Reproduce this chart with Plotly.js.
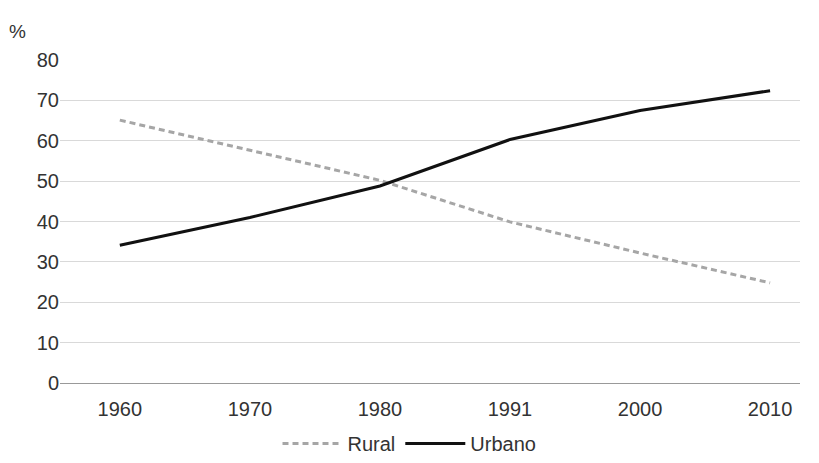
<!DOCTYPE html>
<html><head><script src="https://cdn.plot.ly/plotly-3.0.1.min.js"></script></head>
<body style="margin:0">
<div id="c" style="width:819px;height:463px"></div>
<script>
const years = ['1960','1970','1980','1991','2000','2010'];
const rural = [65.1, 57.7, 50.2, 39.9, 32.2, 24.8];
const urbano = [34.1, 41.0, 48.8, 60.3, 67.5, 72.4];
const tickVals = [0,10,20,30,40,50,60,70,80];
Plotly.newPlot('c', [
  {x: years, y: rural, name: 'Rural', mode: 'lines', line: {color: '#a6a6a6', width: 3, dash: '6px,4px'}},
  {x: years, y: urbano, name: 'Urbano', mode: 'lines', line: {color: '#111111', width: 3}}
], {
  width: 819, height: 463,
  margin: {l: 60, r: 19, t: 60, b: 80},
  font: {family: 'Liberation Sans, Arial', size: 20, color: '#333'},
  xaxis: {type: 'category', range: [-0.46, 5.23], showline: true, linecolor: '#999', linewidth: 1, ticks: 'outside', ticklen: 8, tickcolor: 'rgba(0,0,0,0)', showgrid: false, zeroline: false, automargin: false},
  yaxis: {range: [0, 80], tickvals: tickVals, gridcolor: '#d9d9d9', gridwidth: 1, zeroline: false, ticks: '', automargin: false},
  showlegend: true,
  legend: {orientation: 'h', x: 0.5, xanchor: 'center', xref: 'container', yref: 'container', y: -0.01, yanchor: 'bottom', itemwidth: 60, font: {size: 20}},
  annotations: [{text: '%', xref: 'paper', yref: 'paper', x: -0.057, y: 1.05, xanchor: 'center', yanchor: 'bottom', showarrow: false, font: {size: 19}}],
  plot_bgcolor: 'white', paper_bgcolor: 'white'
}, {staticPlot: true});
</script></body></html>
